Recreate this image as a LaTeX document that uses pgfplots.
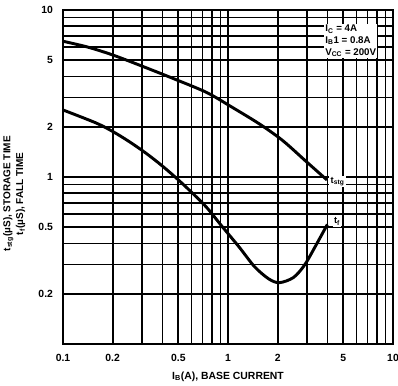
\documentclass[border=0pt]{standalone}
\usepackage{fontspec}
\setmainfont{Liberation Sans}
\usepackage{pgfplots}
\pgfplotsset{compat=1.18}
\begin{document}
\begin{tikzpicture}[x=0.75pt,y=0.75pt]
\path[use as bounding box] (-63,-41) rectangle (335,344);
\begin{axis}[
  at={(0,0)}, anchor=south west,
  scale only axis, width=247.5pt, height=250.5pt,
  xmode=log, ymode=log,
  xmin=0.1, xmax=10, ymin=0.1, ymax=10,
  xtick={0.1,0.2,0.5,1,2,5,10},
  xticklabels={0.1,0.2,0.5,1,2,5,10},
  ytick={0.2,0.5,1,2,5,10},
  yticklabels={0.2,0.5,1,2,5,10},
  minor xtick={0.3,0.4,0.6,0.7,0.8,0.9,3,4,6,7,8,9},
  minor ytick={0.3,0.4,0.6,0.7,0.8,0.9,3,4,6,7,8,9},
  grid=both,
  major grid style={black, line width=1.3pt},
  minor grid style={black, line width=1.2pt},
  major tick length=0pt, minor tick length=0pt,
  axis line style={black, line width=1.6pt},
  tick label style={font=\bfseries\fontsize{7.8}{9}\selectfont},
  /pgf/number format/assume math mode=true,
  xticklabel style={yshift=-4pt},
  yticklabel style={xshift=-4pt},
  clip=false,
]
\addplot[black, line width=2.2pt, smooth] coordinates {
(0.1,6.5)(0.141,6.0)(0.2,5.38)(0.3,4.62)(0.49,3.81)(0.746,3.2)(1.07,2.6)(1.56,2.07)(2.15,1.65)(3,1.23)(3.98,0.96)};
\addplot[black, line width=2.2pt, smooth] coordinates {
(0.1,2.52)(0.158,2.11)(0.2,1.874)(0.251,1.633)(0.316,1.396)(0.398,1.169)(0.5,0.961)(0.631,0.774)(0.75,0.65)(0.9,0.52)(1.17,0.38)(1.45,0.29)(1.77,0.245)(2.05,0.233)(2.49,0.25)(2.91,0.297)(3.41,0.39)(4.0,0.52)};
\node[fill=white, inner sep=1pt, anchor=west, font=\bfseries\fontsize{7}{8}\selectfont] at (axis cs:4.1,0.94) {t\textsubscript{stg}};
\node[fill=white, inner sep=1pt, anchor=west, font=\bfseries\fontsize{7}{8}\selectfont] at (axis cs:4.3,0.54) {t\textsubscript{f}};
\node[fill=white, inner sep=1pt, anchor=north west, align=left, font=\bfseries\fontsize{7.3}{8.8}\selectfont] at (axis description cs:0.79,0.96)
 {I\textsubscript{C} = 4A\\ I\textsubscript{B}1 = 0.8A\\ V\textsubscript{CC} = 200V};
\node[rotate=90, align=center, font=\bfseries\fontsize{7.5}{9.5}\selectfont] at (axis description cs:-0.148,0.45)
 {t\textsubscript{stg}(µS), STORAGE TIME\\ t\textsubscript{f}(µS), FALL TIME};
\node[font=\bfseries\fontsize{7.8}{9}\selectfont] at (axis description cs:0.5,-0.097) {I\textsubscript{B}(A), BASE CURRENT};
\end{axis}
\end{tikzpicture}
\end{document}
